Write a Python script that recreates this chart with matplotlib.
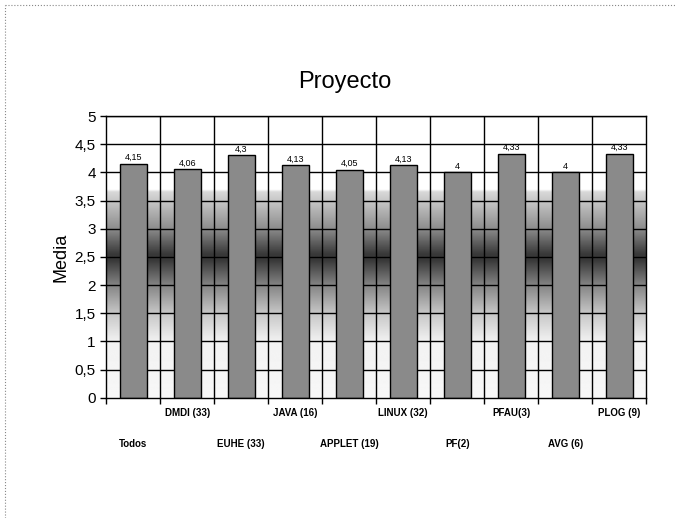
import numpy as np
import matplotlib
matplotlib.use('Agg')
import matplotlib.pyplot as plt
from matplotlib.lines import Line2D

plt.rcParams['font.family'] = ['Liberation Sans', 'DejaVu Sans']

# Datos del gráfico
categorias = ['Todos', 'DMDI (33)', 'EUHE (33)', 'JAVA (16)', 'APPLET (19)',
              'LINUX (32)', 'PF(2)', 'PFAU(3)', 'AVG (6)', 'PLOG (9)']
medias = [4.15, 4.06, 4.3, 4.13, 4.05, 4.13, 4.0, 4.33, 4.0, 4.33]
etiquetas = ['4,15', '4,06', '4,3', '4,13', '4,05', '4,13', '4', '4,33', '4', '4,33']
ticks_y = [0, 0.5, 1, 1.5, 2, 2.5, 3, 3.5, 4, 4.5, 5]
ticks_y_txt = ['0', '0,5', '1', '1,5', '2', '2,5', '3', '3,5', '4', '4,5', '5']

fig = plt.figure(figsize=(6.76, 5.18), dpi=100)
ax = fig.add_axes([0.157, 0.232, 0.799, 0.544])

n = len(categorias)
x = np.arange(n) + 0.5

# Fondo degradado (oscuro en 2,5, blanco arriba y abajo)
yy = np.linspace(0, 5, 500)
gris = np.interp(yy, [0, 1.0, 1.5, 2.0, 2.45, 2.55, 3.0, 3.5, 3.66, 3.7, 5],
                 [0.97, 0.95, 0.78, 0.52, 0.22, 0.22, 0.55, 0.78, 0.85, 1.0, 1.0])
img = np.repeat(gris[:, None], 2, axis=1)
ax.imshow(img, cmap='gray', vmin=0, vmax=1, origin='lower', aspect='auto',
          extent=[0, n, 0, 5], zorder=0, interpolation='bilinear')

# Rejilla
for v in ticks_y[1:]:
    ax.axhline(v, color='black', lw=1, zorder=1)
for b in range(1, n):
    ax.axvline(b, color='black', lw=1, zorder=1)

ax.bar(x, medias, width=0.5, color='#8a8a8a', edgecolor='black', lw=1, zorder=2)

for xi, m, t in zip(x, medias, etiquetas):
    ax.text(xi, m + 0.03, t, ha='center', va='bottom', fontsize=6.5, zorder=3)

ax.set_xlim(0, n)
ax.set_ylim(0, 5)
ax.set_yticks(ticks_y)
ax.set_yticklabels(ticks_y_txt, fontsize=11)
ax.set_xticks(np.arange(0, n + 1))
ax.set_xticklabels([])
ax.tick_params(axis='both', direction='out', length=4, width=1, color='black')
for s in ax.spines.values():
    s.set_color('black')
    s.set_linewidth(1)

# Etiquetas del eje x escalonadas
tr = ax.get_xaxis_transform()
for i, (xi, c) in enumerate(zip(x, categorias)):
    yoff = -0.055 if i % 2 == 1 else -0.165
    ax.text(xi, yoff, c, transform=tr, ha='center', va='center',
            fontsize=7, fontweight='bold')

ax.set_ylabel('Media', fontsize=13, labelpad=4)
fig.text(0.51, 0.842, 'Proyecto', ha='center', va='center', fontsize=17)

# Marco punteado de la figura
fig.add_artist(Line2D([0.008, 1.0], [0.99, 0.99], transform=fig.transFigure,
                      color='#888888', lw=0.8, ls=':'))
fig.add_artist(Line2D([0.008, 0.008], [0.0, 0.99], transform=fig.transFigure,
                      color='#888888', lw=0.8, ls=':'))

fig.savefig('out.png', dpi=100)
